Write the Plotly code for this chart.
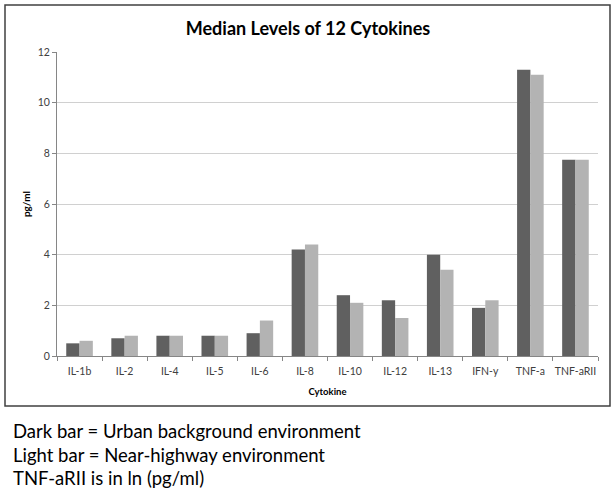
import plotly.graph_objects as go

categories = ["IL-1b", "IL-2", "IL-4", "IL-5", "IL-6", "IL-8", "IL-10", "IL-12",
              "IL-13", "IFN-y", "TNF-a", "TNF-aRII"]
urban = [0.5, 0.7, 0.8, 0.8, 0.9, 4.2, 2.4, 2.2, 4.0, 1.9, 11.3, 7.75]
highway = [0.6, 0.8, 0.8, 0.8, 1.4, 4.4, 2.1, 1.5, 3.4, 2.2, 11.1, 7.75]
y_ticks = [0, 2, 4, 6, 8, 10, 12]

title_text = "Median Levels of 12 Cytokines"
notes = ["Dark bar = Urban background environment",
         "Light bar = Near-highway environment",
         "TNF-aRII is in ln (pg/ml)"]

W, H = 616, 493
L, R, T, B = 57, 18, 52, 137
pw, ph = W - L - R, H - T - B

def px_x(px):
    return (px - L) / pw

def px_y(py):
    return (H - B - py) / ph

fig = go.Figure()
fig.add_trace(go.Bar(x=categories, y=urban, name="Urban background",
                     marker=dict(color="#606060", line=dict(width=0))))
fig.add_trace(go.Bar(x=categories, y=highway, name="Near-highway",
                     marker=dict(color="#b3b3b3", line=dict(width=0))))

font_main = "Lato, 'Open Sans', sans-serif"

fig.update_layout(
    width=W, height=H,
    margin=dict(l=L, r=R, t=T, b=B, pad=0, autoexpand=False),
    paper_bgcolor="white", plot_bgcolor="white",
    barmode="group", bargap=0.41, bargroupgap=0,
    showlegend=False,
    font=dict(family=font_main, color="#404040"),
    title=dict(text="<b>" + title_text + "</b>", x=0.5, xanchor="center",
               y=1 - 29 / H, yanchor="middle",
               font=dict(size=18, color="#000000", family=font_main)),
    xaxis=dict(
        showline=True, linecolor="#868686", linewidth=1,
        ticks="outside", ticklen=4, tickcolor="#868686",
        tickson="boundaries", tickangle=0, ticklabelstandoff=5,
        tickfont=dict(size=10.5, color="#404040"),
        title=dict(text="<b>Cytokine</b>", font=dict(size=9.5, color="#000000"), standoff=12),
        showgrid=False, automargin=False,
    ),
    yaxis=dict(
        range=[0, 12], tickvals=y_ticks,
        showline=True, linecolor="#868686", linewidth=1,
        ticks="outside", ticklen=4, tickcolor="#868686",
        tickfont=dict(size=10.5, color="#404040"),
        showgrid=True, gridcolor="#d0d0d0", gridwidth=1,
        zeroline=False, automargin=False,
        title=dict(text="<b>pg/ml</b>", font=dict(size=10, color="#000000"), standoff=5),
    ),
)

# chart frame
fig.add_shape(type="rect", xref="paper", yref="paper",
              x0=px_x(5), x1=px_x(610), y0=px_y(406), y1=px_y(5),
              line=dict(color="#404040", width=1.5), fillcolor="rgba(0,0,0,0)", layer="below")

for i, (txt, yc) in enumerate(zip(notes, [431, 455, 478])):
    fig.add_annotation(text=txt, xref="paper", yref="paper",
                       x=px_x(11), y=px_y(yc), xanchor="left", yanchor="middle",
                       showarrow=False, font=dict(size=18.5, color="#000000", family=font_main))

fig.write_html("out.html", config={"displayModeBar": False},
               post_script="document.body.style.margin='0';")
